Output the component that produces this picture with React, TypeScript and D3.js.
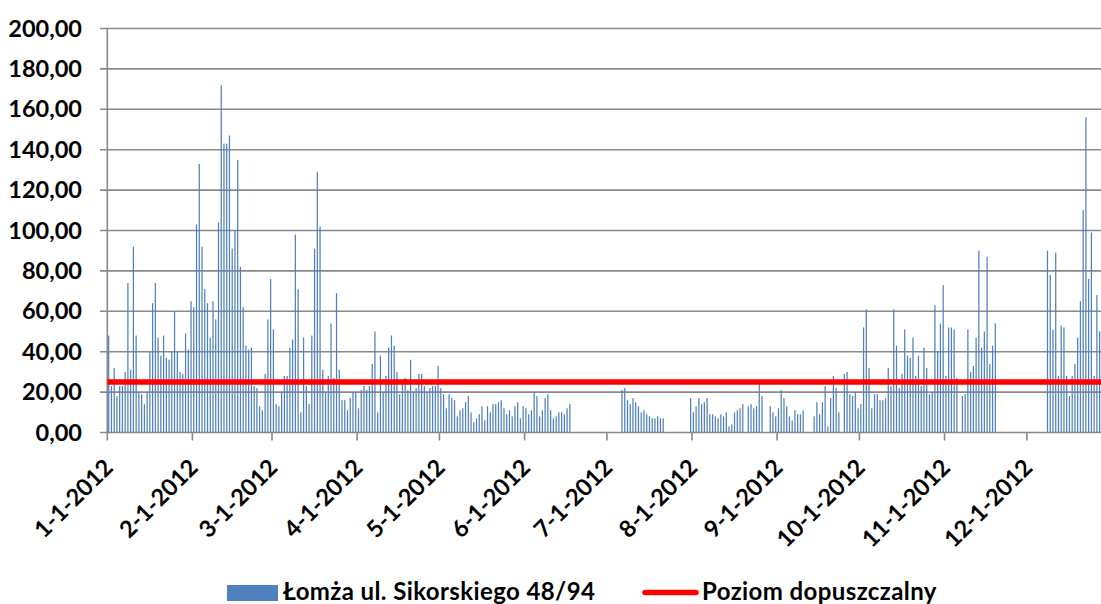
import { useEffect, useRef } from "react";
import * as d3 from "d3";

// daily values, one array per month, null = no measurement
const jan = [48, 23, 32, 18, 23, 23, 30, 74, 31, 92, 48, 20, 19, 14, 20, 40, 64, 74, 47, 38, 48, 37, 36, 40, 60, 40, 30, 29, 49, 41, 65];
const feb = [62, 103, 133, 92, 71, 64, 47, 65, 56, 104, 172, 143, 143, 147, 91, 100, 135, 82, 62, 43, 41, 42, 23, 22, 13, 11, 29, 56, 76];
const mar = [51, 14, 13, 20, 28, 28, 42, 46, 98, 71, 10, 47, 23, 14, 48, 91, 129, 102, 31, 20, 28, 54, 27, 69, 31, 16, 16, 11, 17, 20, 20];
const apr = [12, 21, 23, 21, 23, 34, 50, 10, 38, 20, 28, 42, 48, 43, 30, 19, 26, 27, 21, 36, 20, 22, 29, 29, 23, 20, 22, 23, 23, 33];
const may = [22, 19, 12, 19, 17, 16, 8, 11, 12, 15, 18, 10, 5, 7, 9, 13, 6, 13, 10, 14, 14, 15, 16, 12, 9, 11, 8, 13, 15, 7, 13];
const jun = [12, 9, 11, 20, 18, 8, 11, 17, 19, 11, 7, 8, 10, 10, 9, 12, 14, null, null, null, null, null, null, null, null, null, null, null, null, null];
const jul = [null, null, null, null, null, 21, 22, 16, 14, 17, 15, 13, 10, 11, 9, 8, 7, 7, 8, 7, 7, null, null, null, null, null, null, null, null, null, 17];
const aug = [10, 13, 17, 14, 15, 17, 9, 9, 8, 7, 9, 8, 10, 3, 4, 10, 11, 12, 14, null, 13, 14, 12, 13, 24, 18, null, null, 13, 10, 8];
const sep = [12, 21, 17, 13, 8, 6, 11, 9, 9, 11, null, null, null, 8, 15, 9, 15, 23, 3, 17, 28, 22, 10, null, 29, 30, 19, 18, 20, 12];
const oct = [14, 52, 61, 32, 12, 19, 19, 16, 16, 17, 32, 23, 61, 43, 22, 29, 51, 38, 37, 47, 28, 38, 23, 42, 32, 19, 20, 63, 40, 54, 73];
const nov = [28, 52, 52, 51, 27, null, 18, 19, 51, 30, 33, 47, 90, 42, 50, 87, 34, 43, 54, null, null, null, null, null, null, null, null, null, null, null];
const dec = [null, null, null, null, null, null, null, 90, 78, 51, 89, 28, 53, 52, 28, 18, 28, 34, 47, 65, 110, 156, 76, 99, 28, 68, 50, null, null, null, null];

const months = [jan, feb, mar, apr, may, jun, jul, aug, sep, oct, nov, dec];
const yTicks = [0, 20, 40, 60, 80, 100, 120, 140, 160, 180, 200];
const limitValue = 25;
const seriesName = "Łomża ul. Sikorskiego 48/94";
const limitName = "Poziom dopuszczalny";

export default function App() {
    const ref = useRef<SVGSVGElement>(null);

    useEffect(() => {
        const width = 1101;
        const left = 107.3;
        const dayW = 2.745;
        const font = "Lato, 'Open Sans', sans-serif";

        const data = months.flatMap((vals, m) =>
            vals.map((v, i) => ({date: new Date(Date.UTC(2012, m, i + 1)), value: v}))
        ).filter(d => d.value !== null) as {date: Date, value: number}[];

        const x = d3.scaleUtc()
            .domain([new Date(Date.UTC(2012, 0, 1)), new Date(Date.UTC(2013, 0, 1))])
            .range([left, left + 366 * dayW]);
        const y = d3.scaleLinear().domain([0, 200]).range([432.5, 28.5]);

        const svg = d3.select(ref.current);
        svg.selectAll("*").remove();

        // gridlines
        svg.append("g")
            .selectAll("line")
            .data(yTicks)
            .enter()
            .append("line")
            .attr("x1", 100)
            .attr("x2", width)
            .attr("y1", d => y(d))
            .attr("y2", d => y(d))
            .attr("stroke", "#8a8a8a")
            .attr("stroke-width", 1.6);

        // y axis line
        svg.append("line")
            .attr("x1", left).attr("x2", left)
            .attr("y1", y(200)).attr("y2", y(0))
            .attr("stroke", "#8a8a8a")
            .attr("stroke-width", 1.6);

        // bars
        svg.append("g")
            .selectAll("rect")
            .data(data)
            .enter()
            .append("rect")
            .attr("x", d => x(d.date) + dayW * 0.28)
            .attr("y", d => y(d.value))
            .attr("width", dayW * 0.45)
            .attr("height", d => y(0) - y(d.value))
            .attr("fill", "#4f81bd");

        // month ticks
        const monthStarts = d3.utcMonth.range(new Date(Date.UTC(2012, 0, 1)), new Date(Date.UTC(2013, 0, 1)));
        svg.append("g")
            .selectAll("line")
            .data(monthStarts)
            .enter()
            .append("line")
            .attr("x1", d => x(d)).attr("x2", d => x(d))
            .attr("y1", y(0)).attr("y2", y(0) + 8)
            .attr("stroke", "#8a8a8a")
            .attr("stroke-width", 1.6);

        // limit line
        svg.append("line")
            .attr("x1", left).attr("x2", width)
            .attr("y1", y(limitValue)).attr("y2", y(limitValue))
            .attr("stroke", "#ff0000")
            .attr("stroke-width", 5.5);

        // y labels
        svg.append("g")
            .selectAll("text")
            .data(yTicks)
            .enter()
            .append("text")
            .attr("x", 82)
            .attr("y", d => y(d) + 8)
            .attr("text-anchor", "end")
            .attr("font-family", font)
            .attr("font-weight", "bold")
            .attr("font-size", 23.5)
            .attr("fill", "#000")
            .text(d => d3.format(".2f")(d).replace(".", ","));

        // x labels
        const fmt = d3.utcFormat("%-m-%-d-%Y");
        svg.append("g")
            .selectAll("text")
            .data(monthStarts)
            .enter()
            .append("text")
            .attr("transform", d => `translate(${x(d) + 7},469) rotate(-45)`)
            .attr("text-anchor", "end")
            .attr("font-family", font)
            .attr("font-weight", "bold")
            .attr("font-size", 23.5)
            .attr("fill", "#000")
            .text(d => fmt(d));

        // legend
        const legend = svg.append("g")
            .attr("font-family", font)
            .attr("font-weight", "bold")
            .attr("font-size", 24)
            .attr("letter-spacing", 0.4);
        legend.append("rect")
            .attr("x", 227).attr("y", 585).attr("width", 51).attr("height", 16)
            .attr("fill", "#4f81bd");
        legend.append("text").attr("x", 283).attr("y", 600).text(seriesName);
        legend.append("line")
            .attr("x1", 645).attr("x2", 696).attr("y1", 592.5).attr("y2", 592.5)
            .attr("stroke", "#ff0000").attr("stroke-width", 5.5).attr("stroke-linecap", "round");
        legend.append("text").attr("x", 702).attr("y", 600).text(limitName);
    }, []);

    return <div style={{position: "absolute", left: 0, top: 0}}>
        <svg ref={ref} width={1101} height={604} style={{display: "block", background: "#fff"}}/>
    </div>;
}
